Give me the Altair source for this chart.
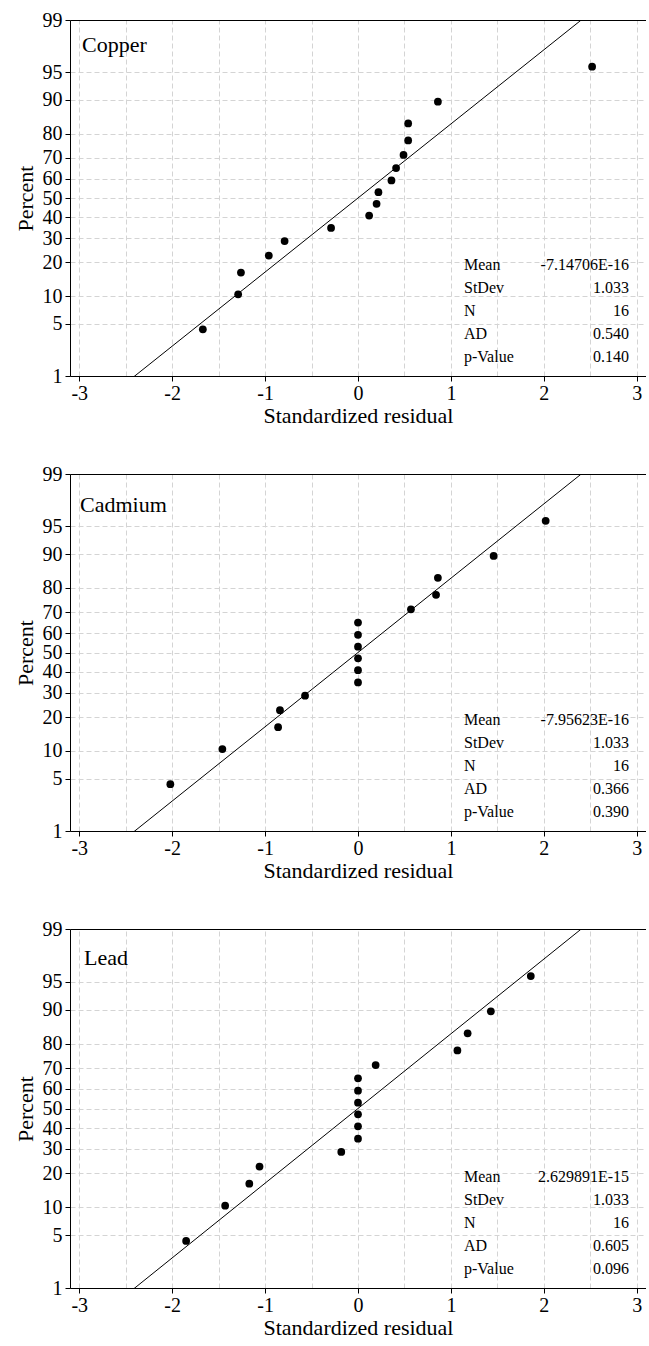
import altair as alt
import pandas as pd
from statistics import NormalDist

FONT = "'Liberation Serif', 'Times New Roman', Times, serif"

# Plotting percentiles (median ranks) shared by the three panels
PERCENTS = [4.3, 10.4, 16.5, 22.6, 28.7, 34.8, 40.9, 47.0, 53.0, 59.1,
            65.2, 71.3, 77.4, 83.5, 89.6, 95.7]

COPPER_RESID = [-1.67, -1.29, -1.26, -0.96, -0.79, -0.29, 0.12, 0.20, 0.22,
                0.36, 0.41, 0.49, 0.54, 0.54, 0.86, 2.52]
CADMIUM_RESID = [-2.02, -1.46, -0.86, -0.84, -0.57, 0.0, 0.0, 0.0, 0.0,
                 0.0, 0.0, 0.57, 0.84, 0.86, 1.46, 2.02]
LEAD_RESID = [-1.85, -1.43, -1.17, -1.06, -0.18, 0.0, 0.0, 0.0, 0.0,
              0.0, 0.0, 0.19, 1.07, 1.18, 1.43, 1.86]

STAT_LABELS = ["Mean", "StDev", "N", "AD", "p-Value"]
COPPER_STATS = ["-7.14706E-16", "1.033", "16", "0.540", "0.140"]
CADMIUM_STATS = ["-7.95623E-16", "1.033", "16", "0.366", "0.390"]
LEAD_STATS = ["2.629891E-15", "1.033", "16", "0.605", "0.096"]

FIT_MEAN = 0.0
FIT_STDEV = 1.033
FIT_PCT = [0.1, 99.9]

Y_TICK_PCT = [1, 5, 10, 20, 30, 40, 50, 60, 70, 80, 90, 95, 99]
X_TICKS = [-3, -2, -1, 0, 1, 2, 3]
X_GRID = [-3, -2.5, -2, -1.5, -1, -0.5, 0, 0.5, 1, 1.5, 2, 2.5, 3]
X_DOMAIN = [-3.1, 3.1]

nd = NormalDist()
Z_TICKS = [nd.inv_cdf(p / 100) for p in Y_TICK_PCT]

GRID_COLOR = "#d4d4d4"
GRID_DASH = [5, 3]
WIDTH = 576


def panel(name, resid, stats, height, name_x, name_y):
    xs = alt.Scale(domain=X_DOMAIN, nice=False, zero=False)
    ys = alt.Scale(domain=[Z_TICKS[0], Z_TICKS[-1]], nice=False, zero=False)

    y_axis = alt.Axis(
        values=Z_TICKS,
        labelExpr="round(cumulativeNormal(datum.value) * 100)",
        title="Percent",
        grid=True, gridColor=GRID_COLOR, gridDash=GRID_DASH, gridWidth=1,
        tickSize=5, tickColor="black", domainColor="black",
        labelFont=FONT, labelFontSize=20, labelColor="black",
        labelOverlap=False, labelPadding=3,
        titleFont=FONT, titleFontSize=22, titleFontWeight="normal",
        titleColor="black", titlePadding=5,
    )
    x_bottom = alt.Axis(
        orient="bottom", values=X_TICKS, labelExpr="'' + datum.value",
        title="Standardized residual", grid=False,
        tickSize=5, tickColor="black", domainColor="black",
        labelFont=FONT, labelFontSize=20, labelColor="black",
        labelFlush=False, labelOverlap=False, labelPadding=2,
        titleFont=FONT, titleFontSize=22, titleFontWeight="normal",
        titleColor="black", titlePadding=2,
    )
    x_top = alt.Axis(
        orient="top", values=X_GRID, title=None, labels=False, ticks=False,
        grid=True, gridColor=GRID_COLOR, gridDash=GRID_DASH, gridWidth=1,
        domain=True, domainColor="black",
    )

    pts_df = pd.DataFrame({"pct": PERCENTS, "resid": resid})
    points = (
        alt.Chart(pts_df)
        .transform_calculate(z="quantileNormal(datum.pct / 100)")
        .mark_circle(size=60, color="black", opacity=1)
        .encode(
            x=alt.X("resid:Q", scale=xs, axis=x_bottom),
            y=alt.Y("z:Q", scale=ys, axis=y_axis),
        )
    )

    line_df = pd.DataFrame({"pct": FIT_PCT})
    line = (
        alt.Chart(line_df)
        .transform_calculate(
            z="quantileNormal(datum.pct / 100)",
            fx=f"{FIT_MEAN} + {FIT_STDEV} * quantileNormal(datum.pct / 100)",
        )
        .mark_line(color="black", strokeWidth=1, clip=True)
        .encode(
            x=alt.X("fx:Q", scale=xs, axis=x_top),
            y=alt.Y("z:Q", scale=ys, axis=y_axis),
        )
    )

    one = pd.DataFrame({"k": [0]})
    name_txt = (
        alt.Chart(one)
        .mark_text(align="left", baseline="alphabetic", font=FONT,
                   fontSize=22, color="black")
        .encode(x=alt.value(name_x), y=alt.value(name_y), text=alt.value(name))
    )
    stat_lab = (
        alt.Chart(one)
        .mark_text(align="left", baseline="top", font=FONT, fontSize=16,
                   lineHeight=23, color="black")
        .encode(x=alt.value(394), y=alt.value(height - 119),
                text=alt.value(STAT_LABELS))
    )
    stat_val = (
        alt.Chart(one)
        .mark_text(align="right", baseline="top", font=FONT, fontSize=16,
                   lineHeight=23, color="black")
        .encode(x=alt.value(559), y=alt.value(height - 119),
                text=alt.value(stats))
    )

    return (
        alt.layer(line, points, name_txt, stat_lab, stat_val)
        .resolve_axis(x="independent")
        .properties(width=WIDTH, height=height)
    )


chart = (
    alt.vconcat(
        panel("Copper", COPPER_RESID, COPPER_STATS, 356, 12, 32),
        panel("Cadmium", CADMIUM_RESID, CADMIUM_STATS, 357, 10, 38),
        panel("Lead", LEAD_RESID, LEAD_STATS, 359, 14, 36),
        spacing=98,
        bounds="flush",
    )
    .configure_view(stroke=None)
    .configure_axis(labelFont=FONT, titleFont=FONT)
    .properties(padding={"left": 14, "top": 10, "right": 0, "bottom": 0},
                background="white")
)

chart.save("out.html", embed_options={"renderer": "svg", "actions": False})
